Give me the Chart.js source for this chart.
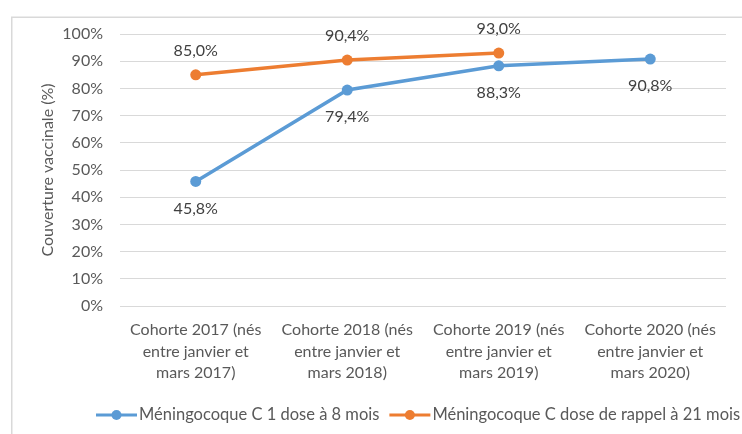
<!DOCTYPE html>
<html>
<head>
<meta charset="utf-8">
<script src="https://cdn.jsdelivr.net/npm/chart.js@4.4.1/dist/chart.umd.min.js"></script>
<style>
  html, body { margin: 0; padding: 0; background: #ffffff; }
  #wrap { width: 742px; height: 434px; position: relative; }
</style>
</head>
<body>
<div id="wrap"><canvas id="c" width="742" height="434"></canvas></div>
<script>
const categories = [
  ["Cohorte 2017 (nés", "entre janvier et", "mars 2017)"],
  ["Cohorte 2018 (nés", "entre janvier et", "mars 2018)"],
  ["Cohorte 2019 (nés", "entre janvier et", "mars 2019)"],
  ["Cohorte 2020 (nés", "entre janvier et", "mars 2020)"]
];
const seriesNames = ["Méningocoque C 1 dose à 8 mois", "Méningocoque C dose de rappel à 21 mois"];
const dose8mois = [45.8, 79.4, 88.3, 90.8];
const rappel21mois = [85.0, 90.4, 93.0, null];
const yTicks = [0, 10, 20, 30, 40, 50, 60, 70, 80, 90, 100];
const yTitle = "Couverture vaccinale (%)";

const FONT = "Lato";
const TEXT = "#595959";
const BLUE = "#5B9BD5";
const ORANGE = "#ED7D31";

const fmt = v => v.toFixed(1).replace('.', ',') + '%';

const frame = {
  id: 'frame',
  beforeDraw(chart) {
    const ctx = chart.ctx;
    ctx.save();
    ctx.fillStyle = '#ffffff';
    ctx.fillRect(0, 0, chart.width, chart.height);
    ctx.strokeStyle = '#D9D9D9';
    ctx.lineWidth = 1.5;
    ctx.strokeRect(11.75, 17.25, chart.width + 20, chart.height + 20);
    ctx.restore();
  }
};

const dataLabels = {
  id: 'dataLabels',
  afterDatasetsDraw(chart) {
    const ctx = chart.ctx;
    ctx.save();
    ctx.font = "16px " + FONT;
    ctx.fillStyle = "#404040";
    ctx.textAlign = 'center';
    ctx.textBaseline = 'middle';
    chart.data.datasets.forEach((ds, i) => {
      const meta = chart.getDatasetMeta(i);
      meta.data.forEach((pt, j) => {
        const v = ds.data[j];
        if (v === null || v === undefined) return;
        const dy = ds.labelPos === 'below' ? 27 : -24;
        ctx.fillText(fmt(v), pt.x, pt.y + dy);
      });
    });
    ctx.restore();
  }
};

const legendPlug = {
  id: 'legendPlug',
  afterDraw(chart) {
    const ctx = chart.ctx;
    ctx.save();
    ctx.font = "16.5px " + FONT;
    ctx.textBaseline = 'middle';
    ctx.textAlign = 'left';
    let x = 96;
    const y = 415;
    chart.data.datasets.forEach((ds) => {
      ctx.strokeStyle = ds.borderColor;
      ctx.lineWidth = 3;
      ctx.beginPath();
      ctx.moveTo(x, y);
      ctx.lineTo(x + 41, y);
      ctx.stroke();
      ctx.fillStyle = ds.borderColor;
      ctx.beginPath();
      ctx.arc(x + 20.5, y, 5, 0, Math.PI * 2);
      ctx.fill();
      ctx.fillStyle = TEXT;
      ctx.fillText(ds.label, x + 43, y);
      x += 43 + ctx.measureText(ds.label).width + 10;
    });
    ctx.restore();
  }
};

new Chart(document.getElementById('c'), {
  type: 'line',
  data: {
    labels: categories,
    datasets: [
      {
        label: seriesNames[0],
        data: dose8mois,
        borderColor: BLUE,
        backgroundColor: BLUE,
        borderWidth: 3.5,
        pointRadius: 5.5,
        pointBorderWidth: 0,
        pointBackgroundColor: BLUE,
        tension: 0,
        labelPos: 'below'
      },
      {
        label: seriesNames[1],
        data: rappel21mois,
        borderColor: ORANGE,
        backgroundColor: ORANGE,
        borderWidth: 3.5,
        pointRadius: 5.5,
        pointBorderWidth: 0,
        pointBackgroundColor: ORANGE,
        tension: 0,
        spanGaps: false,
        labelPos: 'above'
      }
    ]
  },
  options: {
    responsive: false,
    animation: false,
    devicePixelRatio: 1,
    layout: { padding: { left: 0, right: 16, top: 34, bottom: 0 } },
    plugins: {
      legend: { display: false },
      tooltip: { enabled: false }
    },
    scales: {
      x: {
        offset: true,
        grid: { display: false, drawTicks: false, offset: true },
        border: { display: false },
        ticks: {
          color: TEXT,
          font: { family: FONT, size: 16, lineHeight: 1.35 },
          padding: 13,
          maxRotation: 0,
          autoSkip: false
        },
        afterFit(scale) { scale.height = 128; }
      },
      y: {
        min: 0,
        max: 100,
        afterBuildTicks(scale) { scale.ticks = yTicks.map(v => ({ value: v })); },
        grid: { color: '#D9D9D9', lineWidth: 1, drawTicks: false },
        border: { display: false },
        ticks: {
          color: TEXT,
          font: { family: FONT, size: 16 },
          padding: 17,
          callback: v => v + '%'
        },
        title: {
          display: true,
          text: yTitle,
          color: TEXT,
          font: { family: FONT, size: 16 },
          padding: { top: 38, bottom: 0 }
        },
        afterFit(scale) { scale.width = 120; }
      }
    }
  },
  plugins: [frame, dataLabels, legendPlug]
});
</script>
</body>
</html>
